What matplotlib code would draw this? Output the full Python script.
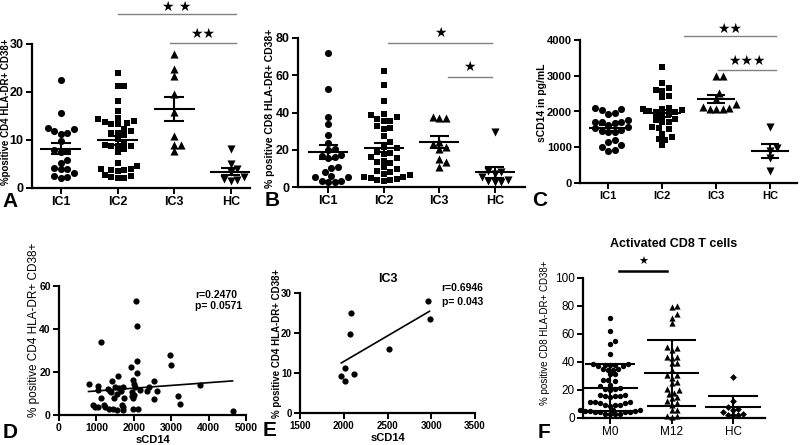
import numpy as np
import matplotlib.pyplot as plt

plt.rcParams['font.family'] = ['Liberation Sans', 'DejaVu Sans']

# -------------------------------------------------
# Data
# -------------------------------------------------
groups_ic = ["IC1", "IC2", "IC3", "HC"]

# A: % positive CD4 HLA-DR+ CD38+
cd4_ic1 = [22.6, 15.6, 12.5, 12.3, 11.8, 11.5, 11.3, 9.8, 8.0, 7.8, 7.6, 5.8, 5.2,
           4.1, 4.0, 3.9, 3.2, 2.6, 2.2, 2.1]
cd4_ic2 = [24.0, 21.3, 21.3, 18.2, 16.1, 14.6, 14.3, 14.0, 13.8, 13.5, 13.4, 13.3,
           12.3, 11.8, 11.5, 11.5, 11.0, 10.2, 9.6, 9.0, 8.8, 8.8, 8.7, 8.2, 7.4,
           5.3, 4.6, 4.0, 3.9, 3.8, 3.7, 3.5, 2.8, 2.5, 2.2, 2.0, 2.1]
cd4_ic3 = [27.9, 24.7, 23.3, 19.6, 15.8, 10.9, 9.0, 9.0, 7.7]
cd4_hc = [8.1, 5.0, 3.9, 3.3, 2.2, 1.9, 1.6, 1.5]

# B: % positive CD8 HLA-DR+ CD38+
cd8_ic1 = [72.0, 52.7, 37.5, 33.6, 27.7, 23.5, 20.4, 20.0, 17.0, 16.5, 16.0, 15.5,
           10.6, 10.3, 7.9, 5.8, 5.5, 5.2, 3.4, 3.0, 2.8, 2.6]
cd8_ic2 = [62.2, 54.8, 46.4, 39.0, 38.4, 37.5, 36.5, 35.7, 35.2, 33.0, 31.5, 31.0,
           27.6, 24.0, 21.3, 20.8, 18.6, 18.0, 17.5, 16.0, 15.5, 14.0, 13.3, 12.8,
           10.6, 9.7, 8.5, 7.9, 7.0, 6.2, 5.6, 5.2, 4.8, 4.2, 3.8, 3.5, 3.2]
cd8_ic3 = [37.5, 37.0, 37.2, 24.0, 23.0, 21.5, 20.5, 15.0, 13.2, 10.6]
cd8_hc = [29.7, 8.5, 8.0, 7.0, 5.5, 3.5, 3.0, 2.8, 2.5]

# C: sCD14 in pg/mL
scd14_ic1 = [2090, 2070, 2050, 1960, 1930, 1760, 1720, 1700, 1700, 1680, 1620, 1560,
             1540, 1480, 1460, 1430, 1420, 1200, 1150, 1050, 1020, 930, 900]
scd14_ic2 = [3240, 2800, 2650, 2600, 2580, 2430, 2400, 2100, 2080, 2060, 2050, 2000,
             1980, 1950, 1920, 1880, 1800, 1760, 1720, 1700, 1560, 1540, 1520, 1380,
             1300, 1220, 1200, 1050]
scd14_ic3 = [2990, 2980, 2520, 2350, 2200, 2120, 2100, 2080, 2070, 2060]
scd14_hc = [1580, 990, 900, 700, 330]

# D: correlation, all patients
corr_all_x = [2060, 2080, 1115, 2970, 3000, 2080, 1920, 2080, 1570, 1990, 2530, 790,
              1030, 3780, 1030, 1430, 1500, 1360, 1600, 1720, 1650, 2040, 2170, 2400,
              2350, 2620, 1125, 1480, 1750, 1950, 1970, 2010, 2530, 3180, 3240, 900,
              960, 1030, 1200, 1240, 1340, 1450, 1540, 1680, 1700, 1720, 1990, 2100,
              4640, 1400, 1550, 1300, 1950, 2000]
corr_all_y = [52.9, 41.2, 34.0, 28.0, 23.4, 25.0, 22.5, 19.5, 18.3, 16.3, 16.0, 14.6,
              13.6, 14.1, 11.8, 16.0, 13.2, 11.3, 12.5, 13.2, 11.0, 13.2, 11.6, 13.2,
              11.3, 11.3, 7.9, 7.9, 7.9, 9.0, 8.0, 9.5, 7.4, 9.0, 5.1, 4.8,
              3.9, 3.9, 4.8, 3.5, 3.0, 2.8, 2.5, 4.8, 3.5, 2.2, 2.8, 2.8,
              2.0, 10.5, 10.0, 12.0, 10.5, 14.5]

# E: correlation, IC3 only
corr_ic3_x = [2960, 2980, 2083, 2068, 2517, 2018, 2120, 1972, 2018]
corr_ic3_y = [28.1, 23.6, 25.0, 19.75, 16.1, 11.25, 9.8, 9.3, 8.0]

# F: activated CD8 T cells over time
groups_time = ["M0", "M12", "HC"]
act_m0 = [71.7, 62.1, 54.9, 53.2, 46.0, 38.8, 38.5, 38.2, 38.0, 37.6, 37.2, 36.8,
          35.3, 35.0, 34.6, 34.2, 31.7, 31.2, 27.3, 27.0, 26.5, 23.7, 23.2, 21.3,
          20.8, 20.5, 20.0, 16.5, 16.2, 16.0, 15.8, 15.5, 15.3, 11.7, 11.5, 11.3,
          11.0, 10.8, 9.4, 9.2, 9.0, 8.8, 5.8, 5.6, 5.5, 5.3, 5.2, 5.0, 4.6, 4.4,
          4.2, 4.0, 3.0, 2.9, 2.8, 2.6]
act_m12 = [80.0, 79.5, 74.0, 71.5, 68.0, 50.5, 50.0, 48.5, 43.5, 43.3, 43.0, 39.5,
           39.0, 34.0, 31.0, 30.5, 28.5, 25.5, 25.0, 20.5, 20.0, 18.0, 17.5, 15.0,
           14.5, 12.0, 10.5, 9.5, 6.0, 5.5, 1.5, 1.2, 1.0]
act_hc = [29.3, 12.2, 8.2, 6.5, 6.0, 4.0, 3.0, 2.5, 2.2, 1.8]

W, H = 800, 445
fig = plt.figure(figsize=(8, 4.45), dpi=100)


def px_axes(left, top, right, bottom):
    return fig.add_axes([left / W, 1 - bottom / H, (right - left) / W, (bottom - top) / H])


def style(ax, size=8, weight="bold"):
    for s in ("top", "right"):
        ax.spines[s].set_visible(False)
    for s in ("left", "bottom"):
        ax.spines[s].set_linewidth(1.6)
    ax.tick_params(width=1.4, length=4, labelsize=size, pad=2)
    for lab in ax.get_xticklabels() + ax.get_yticklabels():
        lab.set_fontweight(weight)


def swarm(ax, x0, vals, d):
    # spread points sideways so they don't overlap (in pixel space)
    pts = ax.transData.transform(np.column_stack([np.full(len(vals), x0), vals]))
    placed = []
    xs = np.zeros(len(vals))
    for i in np.argsort(pts[:, 1]):
        y = pts[i, 1]
        off = 0.0
        for k in range(60):
            cands = [0.0] if k == 0 else [k * d * 0.5, -k * d * 0.5]
            hit = None
            for c in cands:
                if all((c - px) ** 2 + (y - py) ** 2 >= (0.95 * d) ** 2 for px, py in placed):
                    hit = c
                    break
            if hit is not None:
                off = hit
                break
        placed.append((off, y))
        xs[i] = pts[i, 0] + off
    return ax.transData.inverted().transform(np.column_stack([xs, pts[:, 1]]))[:, 0]


def mean_bar(ax, x, vals, kind="sem", mw=0.36, cw=0.17, lw=1.5):
    v = np.asarray(vals, float)
    m = v.mean()
    e = v.std(ddof=1)
    if kind == "sem":
        e /= np.sqrt(len(v))
    ax.hlines(m, x - mw, x + mw, color="k", lw=lw, zorder=4)
    ax.vlines(x, m - e, m + e, color="k", lw=lw, zorder=4)
    ax.hlines([m - e, m + e], x - cw, x + cw, color="k", lw=lw, zorder=4)


def sig(ax, x1, x2, y, ys, text, color="0.5", lw=1.0, size=10):
    ax.plot([x1, x2], [y, y], color=color, lw=lw, clip_on=False)
    ax.text((x1 + x2) / 2, ys, text, ha="center", va="center", fontsize=size,
            family="DejaVu Sans", clip_on=False)


def column_panel(ax, data, markers, ylim, yticks, names, sizes, d=6.5, kind="sem",
                 mw=0.36, cw=0.17):
    ax.set_ylim(*ylim)
    ax.set_yticks(yticks)
    ax.set_xticks(range(1, len(names) + 1))
    ax.set_xticklabels(names)
    fig.canvas.draw()
    for i, (vals, mk, s) in enumerate(zip(data, markers, sizes), start=1):
        xs = swarm(ax, i, vals, d)
        ax.scatter(xs, vals, marker=mk, s=s, color="k", linewidths=0, zorder=3, clip_on=False)
        mean_bar(ax, i, vals, kind=kind, mw=mw, cw=cw)


markers_ic = ["o", "s", "^", "v"]
sizes_ic = [26, 24, 34, 34]

# -------------------------------------------------
# A
# -------------------------------------------------
axA = px_axes(32, 44, 250, 188)
axA.set_xlim(0.49, 4.34)
column_panel(axA, [cd4_ic1, cd4_ic2, cd4_ic3, cd4_hc], markers_ic, (0, 30), [0, 10, 20, 30],
             groups_ic, sizes_ic)
style(axA, size=9)
sig(axA, 2.0, 4.1, 36.2, 37.7, "★ ★")
sig(axA, 2.92, 4.1, 30.2, 32.0, "★★")
fig.text(6 / W, 1 - 112 / H, "%positive CD4 HLA-DR+ CD38+", rotation=90, ha="center",
         va="center", fontsize=7, fontweight="bold")

# -------------------------------------------------
# B
# -------------------------------------------------
axB = px_axes(298, 38, 525, 187)
axB.set_xlim(0.46, 4.54)
column_panel(axB, [cd8_ic1, cd8_ic2, cd8_ic3, cd8_hc], markers_ic, (0, 80), [0, 20, 40, 60, 80],
             groups_ic, sizes_ic)
style(axB, size=9)
sig(axB, 2.08, 3.94, 77.3, 82.7, "★")
sig(axB, 3.15, 3.94, 59.0, 64.4, "★")
fig.text(270 / W, 1 - 108 / H, "% positive CD8 HLA-DR+ CD38+", rotation=90, ha="center",
         va="center", fontsize=7.5, fontweight="bold")

# -------------------------------------------------
# C
# -------------------------------------------------
axC = px_axes(580, 40, 797, 183)
axC.set_xlim(0.48, 4.5)
column_panel(axC, [scd14_ic1, scd14_ic2, scd14_ic3, scd14_hc], markers_ic, (0, 4000),
             [0, 1000, 2000, 3000, 4000], groups_ic, sizes_ic)
style(axC, size=8)
sig(axC, 2.41, 4.11, 4112, 4300, "★★")
sig(axC, 3.04, 4.11, 3161, 3413, "★★★")
fig.text(542 / W, 1 - 103 / H, "sCD14 in pg/mL", rotation=90, ha="center",
         va="center", fontsize=7.5, fontweight="bold")

# -------------------------------------------------
# D
# -------------------------------------------------
axD = px_axes(59, 286, 246, 415)
axD.set_xlim(0, 5000)
axD.set_ylim(0, 60)
axD.set_xticks(range(0, 5001, 1000))
axD.set_yticks([0, 20, 40, 60])
axD.scatter(corr_all_x, corr_all_y, s=20, color="k", linewidths=0, zorder=3, clip_on=False)
k, b0 = np.polyfit(corr_all_x, corr_all_y, 1)
xr = np.array([min(corr_all_x), max(corr_all_x)])
axD.plot(xr, k * xr + b0, color="k", lw=1.2)
style(axD, size=7.5)
axD.text(3636, 55.8, "r=0.2470", fontsize=7.5, fontweight="bold", va="center")
axD.text(3636, 50.5, "p= 0.0571", fontsize=7.5, fontweight="bold", va="center")
axD.set_xlabel("sCD14", fontsize=8, fontweight="bold", labelpad=1)
fig.text(34 / W, 1 - 330 / H, "% positive CD4 HLA-DR+ CD38+", rotation=90, ha="center",
         va="center", fontsize=8.5)

# -------------------------------------------------
# E
# -------------------------------------------------
axE = px_axes(300, 293, 475, 413)
axE.set_xlim(1500, 3500)
axE.set_ylim(0, 30)
axE.set_xticks(range(1500, 3501, 500))
axE.set_yticks([0, 10, 20, 30])
axE.scatter(corr_ic3_x, corr_ic3_y, s=20, color="k", linewidths=0, zorder=3)
k, b0 = np.polyfit(corr_ic3_x, corr_ic3_y, 1)
xr = np.array([min(corr_ic3_x), max(corr_ic3_x)])
axE.plot(xr, k * xr + b0, color="k", lw=1.2)
style(axE, size=7)
axE.text(3120, 31.2, "r=0.6946", fontsize=7.5, fontweight="bold", va="center", clip_on=False)
axE.text(3120, 27.7, "p= 0.043", fontsize=7.5, fontweight="bold", va="center")
axE.set_title("IC3", fontsize=9, fontweight="bold", pad=8)
axE.set_xlabel("sCD14", fontsize=8, fontweight="bold", labelpad=1)
fig.text(277 / W, 1 - 343 / H, "% positive CD4 HLA-DR+ CD38+", rotation=90, ha="center",
         va="center", fontsize=7, fontweight="bold")

# -------------------------------------------------
# F
# -------------------------------------------------
axF = px_axes(583, 278, 765, 418)
axF.set_xlim(0.56, 3.52)
column_panel(axF, [act_m0, act_m12, act_hc], ["o", "^", "D"], (0, 100),
             [0, 20, 40, 60, 80, 100], groups_time, [15, 20, 12], d=5.0, kind="sd",
             mw=0.45, cw=0.4)
style(axF, size=8.5, weight="normal")
axF.plot([1.15, 1.93], [105, 105], color="k", lw=1.8, clip_on=False)
axF.text(1.54, 111.4, "★", ha="center", va="center", fontsize=8, family="DejaVu Sans")
axF.set_title("Activated CD8 T cells", fontsize=9, fontweight="bold", pad=22)
fig.text(545 / W, 1 - 333 / H, "% positive CD8 HLA-DR+ CD38+", rotation=90, ha="center",
         va="center", fontsize=7)

# panel letters
for lab, x, y in [("A", 10, 201), ("B", 272, 200), ("C", 540, 200),
                  ("D", 10, 432), ("E", 270, 431), ("F", 544, 432)]:
    fig.text(x / W, 1 - y / H, lab, ha="center", va="center", fontsize=15, fontweight="bold")

fig.savefig("out.png", dpi=100)
